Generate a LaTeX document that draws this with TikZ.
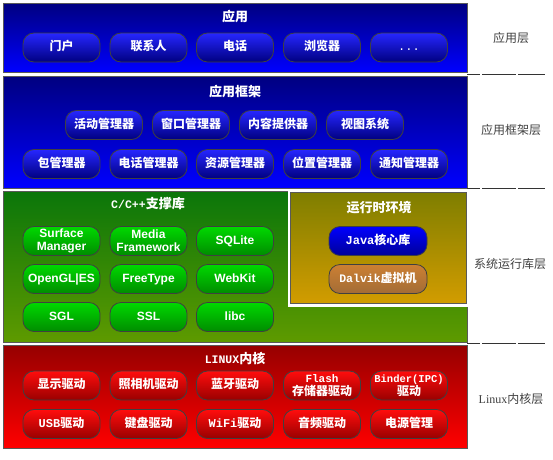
\documentclass[tikz,border=0pt]{standalone}
\usepackage{fontspec}
\setmainfont{Liberation Sans}
\newfontfamily\cjk{Noto Sans CJK SC}
\newfontfamily\mono{Liberation Mono}
\newfontfamily\serif{Liberation Serif}
\newcommand\lat[2][12]{{\mono\fontsize{#1}{12.5}\selectfont #2}}

\definecolor{apptop}{HTML}{000080}
\definecolor{appbot}{HTML}{0000FF}
\definecolor{libtop}{HTML}{0A760A}
\definecolor{libbot}{HTML}{5E9A00}
\definecolor{rttop}{HTML}{7E7E00}
\definecolor{rtbot}{HTML}{D29C00}
\definecolor{kertop}{HTML}{960000}
\definecolor{kerbot}{HTML}{FF0000}

\begin{document}
\begin{tikzpicture}[x=1pt,y=-1pt,
layer/.style={draw=black!65, line width=0.8pt},
title/.style={text=white, font=\cjk\bfseries\fontsize{13}{14}\selectfont},
btn/.style={rounded corners=11pt, draw=black!75, line width=0.8pt, minimum width=77pt, minimum height=29pt, inner sep=0pt, text height=9pt, text depth=2.5pt, text=white, align=center, font=\cjk\bfseries\fontsize{12}{12.5}\selectfont},
twoline/.style={text height={}, text depth={}},
bluebtn/.style={btn, top color=blue!85!white, bottom color=apptop},
greenbtn/.style={btn, top color=green!85!black, bottom color=green!55!black, font=\bfseries\fontsize{12}{13}\selectfont},
redbtn/.style={btn, top color=red!95!white, bottom color=red!60!black},
side/.style={text=black!75, font=\cjk\fontsize{12}{13}\selectfont},
sep/.style={black!80, line width=0.8pt}
]
    \useasboundingbox (0,0) rectangle (553,459);

    % application layer
    \path[layer, top color=apptop, bottom color=appbot] (3,3) rectangle (467,72);
    \node[title] (t1) at (235,17) {应用};
    \node[bluebtn] (a1) at (61.5,47.5) {门户};
    \node[bluebtn] (a2) at (148.5,47.5) {联系人};
    \node[bluebtn] (a3) at (235,47.5) {电话};
    \node[bluebtn] (a4) at (322,47.5) {浏览器};
    \node[bluebtn] (a5) at (409,47.5) {\mono\mdseries ...};

    % application framework
    \path[layer, top color=apptop, bottom color=appbot] (3,76) rectangle (467,188);
    \node[title] (t2) at (235,92) {应用框架};
    \node[bluebtn] (f1) at (104,125) {活动管理器};
    \node[bluebtn] (f2) at (191,125) {窗口管理器};
    \node[bluebtn] (f3) at (278,125) {内容提供器};
    \node[bluebtn] (f4) at (365,125) {视图系统};
    \node[bluebtn] (f5) at (61.5,164) {包管理器};
    \node[bluebtn] (f6) at (148.5,164) {电话管理器};
    \node[bluebtn] (f7) at (235,164) {资源管理器};
    \node[bluebtn] (f8) at (322,164) {位置管理器};
    \node[bluebtn] (f9) at (409,164) {通知管理器};

    % libraries
    \path[layer, top color=libtop, bottom color=libbot] (3,191) rectangle (467,342);
    \node[title] (t3) at (148,204) {\lat[11.5]{C/C++}支撑库};
    \node[greenbtn, twoline] (l1) at (61.5,241) {Surface\\Manager};
    \node[greenbtn, twoline] (l2) at (148.5,241) {Media\\Framework};
    \node[greenbtn] (l3) at (235,241) {SQLite};
    \node[greenbtn] (l4) at (61.5,279) {OpenGL|ES};
    \node[greenbtn] (l5) at (148.5,279) {FreeType};
    \node[greenbtn] (l6) at (235,279) {WebKit};
    \node[greenbtn] (l7) at (61.5,317) {SGL};
    \node[greenbtn] (l8) at (148.5,317) {SSL};
    \node[greenbtn] (l9) at (235,317) {libc};

    % runtime
    \draw[white, line width=3pt] (289,191) rectangle (467,305);
    \path[layer, top color=rttop, bottom color=rtbot] (290.5,192) rectangle (466,303);
    \node[title] (t4) at (379,208) {运行时环境};
    \node[bluebtn, minimum width=98pt, top color=blue, bottom color=blue!60!black] (r1) at (378,241) {\lat{Java}核心库};
    \node[btn, minimum width=98pt, top color=brown!80!orange, bottom color=brown!85!black] (r2) at (378,279) {\lat[11.5]{Dalvik}虚拟机};

    % kernel
    \path[layer, top color=kertop, bottom color=kerbot] (3,345) rectangle (467,448);
    \node[title] (t5) at (235,358) {\lat[11.5]{LINUX}内核};
    \node[redbtn] (k1) at (61.5,385.5) {显示驱动};
    \node[redbtn] (k2) at (148.5,385.5) {照相机驱动};
    \node[redbtn] (k3) at (235,385.5) {蓝牙驱动};
    \node[redbtn, twoline] (k4) at (322,385.5) {\lat[11]{Flash}\\存储器驱动};
    \node[redbtn, twoline] (k5) at (409,385.5) {\lat[10.5]{Binder(IPC)}\\驱动};
    \node[redbtn] (k6) at (61.5,424) {\lat{USB}驱动};
    \node[redbtn] (k7) at (148.5,424) {键盘驱动};
    \node[redbtn] (k8) at (235,424) {\lat{WiFi}驱动};
    \node[redbtn] (k9) at (322,424) {音频驱动};
    \node[redbtn] (k10) at (409,424) {电源管理};

    % layer names
    \node[side] (s1) at (511,38) {应用层};
    \node[side] (s2) at (511,130) {应用框架层};
    \node[side] (s3) at (510,264) {系统运行库层};
    \node[side] (s4) at (511,399) {{\serif Linux}内核层};

    \draw[sep] (467,74) -- (480,74) (482,74) -- (516,74) (518,74) -- (545,74);
    \draw[sep] (467,188.5) -- (480,188.5) (482,188.5) -- (516,188.5) (518,188.5) -- (545,188.5);
    \draw[sep] (467,343.5) -- (480,343.5) (482,343.5) -- (516,343.5) (518,343.5) -- (545,343.5);
\end{tikzpicture}
\end{document}
